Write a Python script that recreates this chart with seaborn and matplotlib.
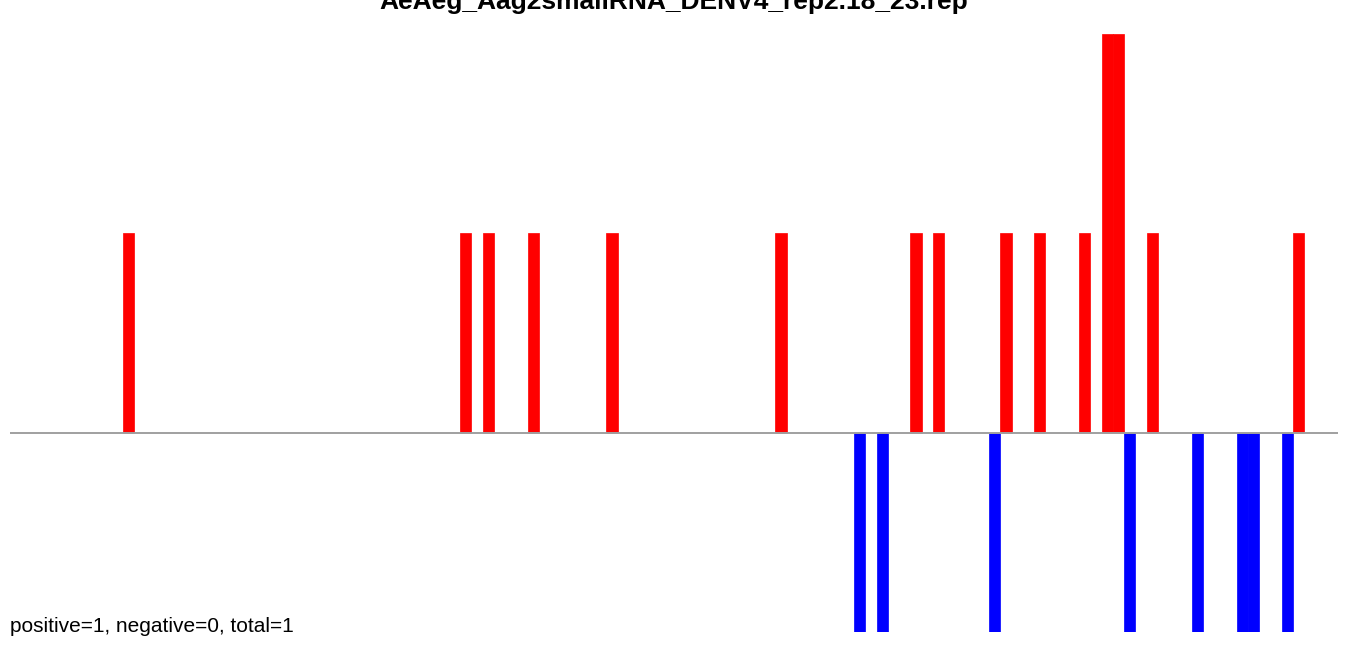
import pandas as pd
import matplotlib
matplotlib.use('Agg')
import matplotlib.pyplot as plt
import seaborn as sns

# positions (left edge index) and counts
n_pos = 118
plus_pos = [10, 40, 42, 46, 53, 68, 80, 82, 88, 91, 95, 97, 98, 101, 114]
plus_val = [1, 1, 1, 1, 1, 1, 1, 1, 1, 1, 1, 2, 2, 1, 1]
minus_pos = [75, 77, 87, 99, 105, 109, 110, 113]
minus_val = [-1, -1, -1, -1, -1, -1, -1, -1]

title = 'AeAeg_Aag2smallRNA_DENV4_rep2.18_23.rep'
note = 'positive=1, negative=0, total=1'

df = pd.DataFrame({'pos': range(n_pos), 'plus': 0.0, 'minus': 0.0})
df.loc[plus_pos, 'plus'] = plus_val
df.loc[minus_pos, 'minus'] = minus_val

sns.set_style('white')
plt.rcParams['font.family'] = ['Liberation Sans', 'DejaVu Sans']

W, H = 1350, 645
fig = plt.figure(figsize=(W / 100, H / 100), dpi=100)
ax = fig.add_axes([10 / W, 1 - 632 / H, 1328 / W, 598 / H])

sns.barplot(x='pos', y='plus', data=df, color='#FF0000', saturation=1,
            width=1, errorbar=None, ax=ax)
sns.barplot(x='pos', y='minus', data=df, color='#0000FF', saturation=1,
            width=1, errorbar=None, ax=ax)
for p in ax.patches:
    if p.get_height() != 0:
        p.set_edgecolor(p.get_facecolor())
        p.set_linewidth(0.5)
    else:
        p.set_linewidth(0)

ax.axhline(0, color='#A0A0A0', lw=1.4, zorder=5)
ax.set_xlim(-0.5, n_pos - 0.5)
ax.set_ylim(-1, 2)
ax.set_axis_off()

fig.text((10 + 1338) / 2 / W, 1 - 9.5 / H, title, ha='center', va='baseline',
         fontsize=19, fontweight='bold', color='black')
fig.text(10 / W, 1 - 632 / H, note, ha='left', va='baseline', fontsize=15,
         color='black')

fig.savefig('out.png', dpi=100)
